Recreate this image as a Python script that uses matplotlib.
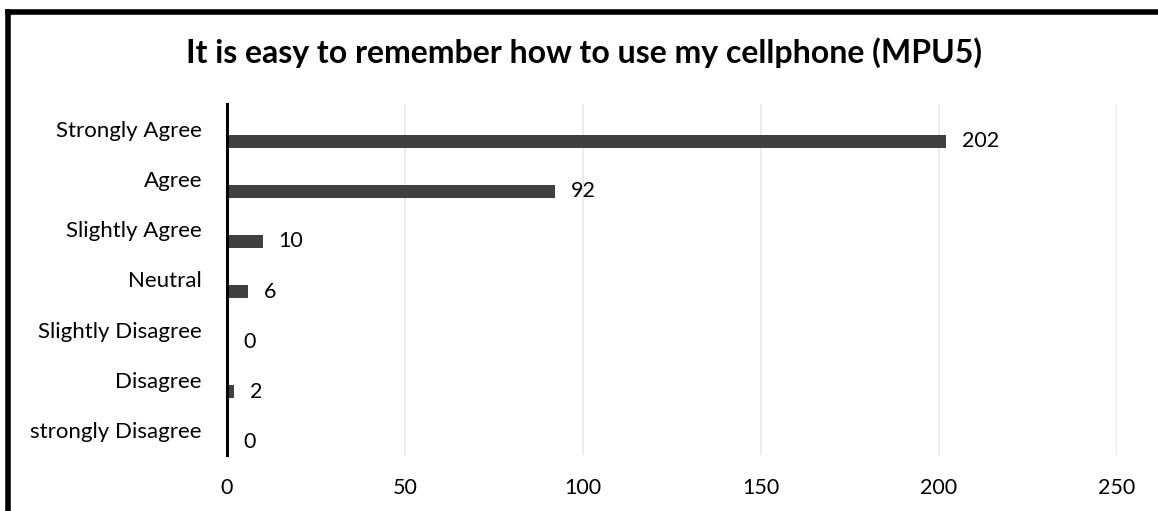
import matplotlib.pyplot as plt
import numpy as np
from matplotlib.lines import Line2D

categories = ["Strongly Agree", "Agree", "Slightly Agree", "Neutral",
              "Slightly Disagree", "Disagree", "strongly Disagree"]
counts = [202, 92, 10, 6, 0, 2, 0]
x_ticks = [0, 50, 100, 150, 200, 250]
title = "It is easy to remember how to use my cellphone (MPU5)"

plt.rcParams['font.family'] = ['Lato', 'DejaVu Sans']

fig = plt.figure(figsize=(11.58, 5.11), dpi=100)
ax = fig.add_axes([0.196, 0.1096, 0.7686, 0.6869])

pos = np.arange(len(categories))
bar_pos = pos + 0.24  # Excel draws the bars a little below the labels
ax.barh(bar_pos, counts, height=0.26, color="#404040")

for y, v in zip(bar_pos, counts):
    ax.annotate(str(v), (v, y), xytext=(11.5, 0), textcoords="offset points",
                va="center", ha="left", fontsize=15.5, color="black")

ax.set_ylim(len(categories) - 0.5, -0.5)
ax.set_yticks(pos)
ax.set_yticklabels(categories, fontsize=16)
ax.set_xlim(0, 250)
ax.set_xticks(x_ticks)
ax.set_xticklabels([str(t) for t in x_ticks], fontsize=15.5)
ax.tick_params(length=0)
ax.tick_params(axis="y", pad=18)
ax.tick_params(axis="x", pad=16.5)

ax.grid(axis="x", color="#e8e8e8", linewidth=1.2)
ax.set_axisbelow(True)
for s in ["top", "right", "bottom"]:
    ax.spines[s].set_visible(False)
ax.spines["left"].set_linewidth(2.2)
ax.spines["left"].set_color("black")

fig.text(0.504, 0.898, title, ha="center", va="center", fontsize=23, fontweight="bold")

# thick frame around the chart (top and left edges visible)
fig.add_artist(Line2D([0.0065, 1.0], [0.977, 0.977], color="black", linewidth=4))
fig.add_artist(Line2D([0.0065, 0.0065], [0.0, 0.977], color="black", linewidth=4))

fig.savefig("out.png", dpi=100)
